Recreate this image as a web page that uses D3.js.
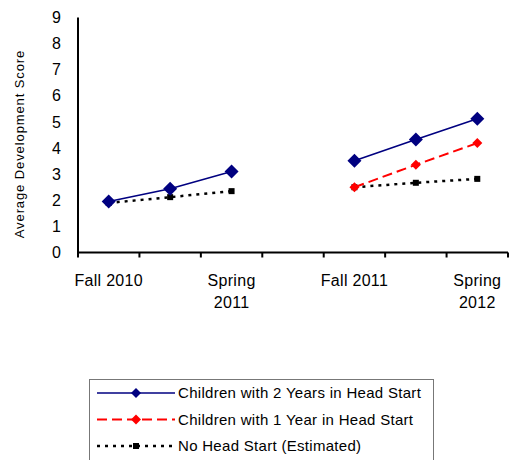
<!DOCTYPE html>
<html><head><meta charset="utf-8">
<script src="https://cdn.jsdelivr.net/npm/d3@7"></script>
<style>body{margin:0;background:#fff}svg{display:block}text{font-family:Arial,"Liberation Sans",sans-serif;fill:#000}</style>
</head><body>
<svg id="c" width="517" height="460"></svg>
<script>
const categories = ["Fall 2010", "m1", "Spring 2011", "gap", "Fall 2011", "m2", "Spring 2012"];
const categoryLabels = [["Fall 2010"], [], ["Spring", "2011"], [], ["Fall 2011"], [], ["Spring", "2012"]];
const twoYears = [1.95, 2.44, 3.1, null, 3.51, 4.33, 5.12];
const oneYear = [null, null, null, null, 2.5, 3.36, 4.19];
const noHeadStart = [1.9, 2.12, 2.35, null, 2.5, 2.67, 2.82];
const yTicks = [0, 1, 2, 3, 4, 5, 6, 7, 8, 9];
const seriesNames = ["Children with 2 Years in Head Start", "Children with 1 Year in Head Start", "No Head Start (Estimated)"];

const svg = d3.select("#c");
const x = d3.scaleBand().domain(categories).range([78, 508]);
const y = d3.scaleLinear().domain([0, 9]).range([252.5, 17.5]);

// axes
svg.append("line").attr("x1", 78).attr("x2", 78).attr("y1", y(9)).attr("y2", y(0)).attr("stroke", "#000").attr("stroke-width", 2);
svg.append("line").attr("x1", 77).attr("x2", 508).attr("y1", y(0)).attr("y2", y(0)).attr("stroke", "#000").attr("stroke-width", 2);
const tickXs = categories.map(c => x(c)).concat([x.range()[1]]);
svg.selectAll(".xt").data(tickXs).join("line").attr("x1", d => d).attr("x2", d => d)
  .attr("y1", y(0)).attr("y2", y(0) + 5).attr("stroke", "#000").attr("stroke-width", 2);
svg.selectAll(".yl").data(yTicks).join("text").attr("x", 61).attr("y", d => y(d)).attr("dy", "0.35em")
  .attr("text-anchor", "end").attr("font-size", 16).text(d => d);
categories.forEach((c, i) => {
  categoryLabels[i].forEach((t, j) => {
    svg.append("text").attr("x", x(c) + x.bandwidth() / 2).attr("y", 286 + j * 22)
      .attr("text-anchor", "middle").attr("font-size", 16).attr("letter-spacing", 0.3).text(t);
  });
});
svg.append("text").attr("transform", "translate(24,144) rotate(-90)").attr("text-anchor", "middle")
  .attr("font-size", 13).attr("letter-spacing", 0.9).text("Average Development Score");

const cx = c => x(c) + x.bandwidth() / 2;
const styles = [
  {data: twoYears, color: "#000080", width: 1.6, dash: null, marker: "diamond", size: 7},
  {data: oneYear, color: "#ff0000", width: 2, dash: "10,5", marker: "diamond", size: 5},
  {data: noHeadStart, color: "#000", width: 2.5, dash: "3,5", marker: "square", size: 3}
];
[2, 1, 0].forEach(k => {
  const s = styles[k];
  const pts = categories.map((c, i) => ({c, v: s.data[i]}));
  const line = d3.line().defined(d => d.v !== null).x(d => cx(d.c)).y(d => y(d.v));
  svg.append("path").attr("d", line(pts)).attr("fill", "none").attr("stroke", s.color)
    .attr("stroke-width", s.width).attr("stroke-dasharray", s.dash);
  pts.filter(d => d.v !== null).forEach(d => drawMarker(svg, s, cx(d.c), y(d.v)));
});

function drawMarker(g, s, px, py) {
  if (s.marker === "diamond") {
    const r = s.size;
    g.append("path").attr("d", `M${px},${py - r}L${px + r},${py}L${px},${py + r}L${px - r},${py}Z`).attr("fill", s.color);
  } else {
    g.append("rect").attr("x", px - s.size).attr("y", py - s.size).attr("width", s.size * 2).attr("height", s.size * 2).attr("fill", s.color);
  }
}

// legend
svg.append("rect").attr("x", 89.5).attr("y", 379.5).attr("width", 344).attr("height", 90).attr("fill", "none").attr("stroke", "#777").attr("stroke-width", 1);
seriesNames.forEach((n, i) => {
  const s = styles[i];
  const ly = 393 + i * 26.5;
  svg.append("line").attr("x1", 97).attr("x2", 175).attr("y1", ly).attr("y2", ly).attr("stroke", s.color)
    .attr("stroke-width", s.width).attr("stroke-dasharray", s.dash);
  const ls = Object.assign({}, s, {size: s.marker === "diamond" ? 5 : 3});
  drawMarker(svg, ls, 136, ly);
  svg.append("text").attr("x", 178).attr("y", ly).attr("dy", "0.35em").attr("font-size", 15).attr("letter-spacing", 0.3).text(n);
});
</script>
</body></html>
